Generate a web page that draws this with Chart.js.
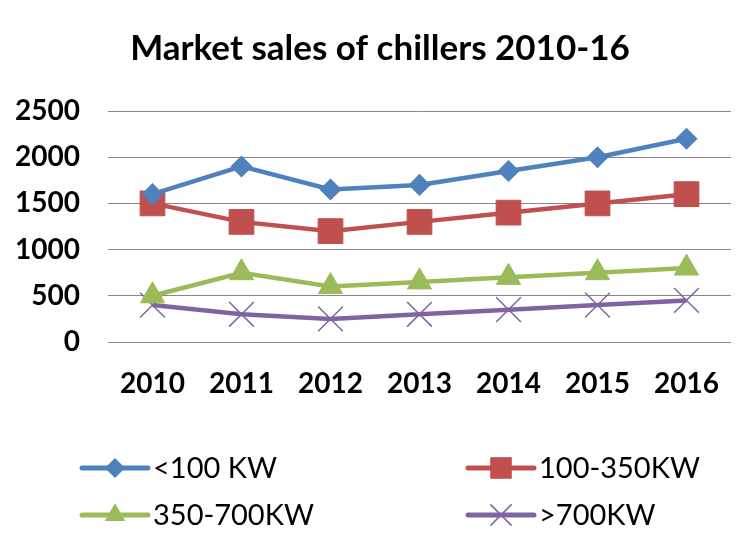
<!DOCTYPE html>
<html>
<head>
<meta charset="utf-8">
<script src="https://cdn.jsdelivr.net/npm/chart.js@4/dist/chart.umd.min.js"></script>
<style>
  html, body { margin: 0; padding: 0; background: #ffffff; }
  canvas { display: block; }
</style>
</head>
<body>
<canvas id="chart" width="756" height="535"></canvas>
<script>
// Market sales of chillers by capacity band, 2010-2016
const chartTitle = 'Market sales of chillers 2010-16';
const years = ['2010', '2011', '2012', '2013', '2014', '2015', '2016'];
const under100kw = [1600, 1900, 1650, 1700, 1850, 2000, 2200];
const kw100to350 = [1500, 1300, 1200, 1300, 1400, 1500, 1600];
const kw350to700 = [500, 750, 600, 650, 700, 750, 800];
const over700kw = [400, 300, 250, 300, 350, 400, 450];
const seriesNames = ['<100 KW', '100-350KW', '350-700KW', '>700KW'];
const yTickValues = [0, 500, 1000, 1500, 2000, 2500];

const FONT = 'Lato, "Open Sans", "Liberation Sans", sans-serif';

function series(label, data, color, style, radius, legendRadius, pointBorder) {
  return {
    label: label,
    data: data,
    borderColor: color,
    backgroundColor: color,
    borderWidth: 4.5,
    tension: 0,
    pointStyle: style,
    pointRadius: radius,
    pointHoverRadius: radius,
    pointBorderWidth: pointBorder,
    pointBackgroundColor: color,
    pointBorderColor: color,
    legendRadius: legendRadius
  };
}

const datasets = [
  series(seriesNames[0], under100kw, '#4F81BD', 'rectRot', 10, 9, 1.5),
  series(seriesNames[1], kw100to350, '#C0504D', 'rect', 17.5, 14.5, 1),
  series(seriesNames[2], kw350to700, '#9BBB59', 'triangle', 14, 11, 1),
  series(seriesNames[3], over700kw, '#8064A2', 'crossRot', 17.5, 15, 1.5)
];

// Title centred over the whole figure
const figureTitle = {
  id: 'figureTitle',
  afterDraw(chart) {
    const ctx = chart.ctx;
    ctx.save();
    ctx.fillStyle = '#000000';
    ctx.font = 'bold 35px ' + FONT;
    ctx.textAlign = 'center';
    ctx.textBaseline = 'middle';
    ctx.fillText(chartTitle, 380, 49);
    ctx.restore();
  }
};

// Two-column legend below the plot
const gridLegend = {
  id: 'gridLegend',
  afterDraw(chart) {
    const ctx = chart.ctx;
    const colX = [82, 468];
    const rowY = [468, 515];
    const lineLen = 66;
    chart.data.datasets.forEach((ds, i) => {
      const x = colX[i % 2];
      const y = rowY[Math.floor(i / 2)];
      ctx.save();
      ctx.strokeStyle = ds.borderColor;
      ctx.lineWidth = 5;
      ctx.lineCap = 'round';
      ctx.beginPath();
      ctx.moveTo(x, y);
      ctx.lineTo(x + lineLen, y);
      ctx.stroke();
      ctx.fillStyle = ds.pointBackgroundColor;
      ctx.strokeStyle = ds.pointBorderColor;
      ctx.lineWidth = ds.pointBorderWidth;
      ctx.lineCap = 'butt';
      Chart.helpers.drawPoint(ctx, {
        pointStyle: ds.pointStyle,
        radius: ds.legendRadius,
        borderWidth: ds.pointBorderWidth,
        rotation: 0
      }, x + lineLen / 2, y);
      ctx.fillStyle = '#000000';
      ctx.font = '29px ' + FONT;
      ctx.textAlign = 'left';
      ctx.textBaseline = 'middle';
      ctx.fillText(ds.label, x + lineLen + 5, y + 1);
      ctx.restore();
    });
  }
};

new Chart(document.getElementById('chart'), {
  type: 'line',
  data: { labels: years, datasets: datasets },
  plugins: [figureTitle, gridLegend],
  options: {
    responsive: false,
    animation: false,
    layout: { padding: { left: 0, right: 25, top: 111, bottom: 133 } },
    plugins: {
      legend: { display: false },
      tooltip: { enabled: false },
      title: { display: false }
    },
    scales: {
      x: {
        type: 'category',
        offset: true,
        grid: { display: false, drawTicks: false },
        border: { display: false },
        ticks: {
          color: '#000000',
          font: { family: FONT, size: 28, weight: 'bold' },
          padding: 25,
          maxRotation: 0
        },
        afterFit(scale) { scale.height = 60; }
      },
      y: {
        min: 0,
        max: 2500,
        afterBuildTicks(scale) {
          scale.ticks = yTickValues.map(v => ({ value: v }));
        },
        grid: { color: '#878787', lineWidth: 1, drawTicks: false },
        border: { display: false },
        ticks: {
          color: '#000000',
          font: { family: FONT, size: 28, weight: 'bold' },
          padding: 28,
          callback: v => String(v)
        },
        afterFit(scale) { scale.width = 108; }
      }
    }
  }
});
</script>
</body>
</html>
